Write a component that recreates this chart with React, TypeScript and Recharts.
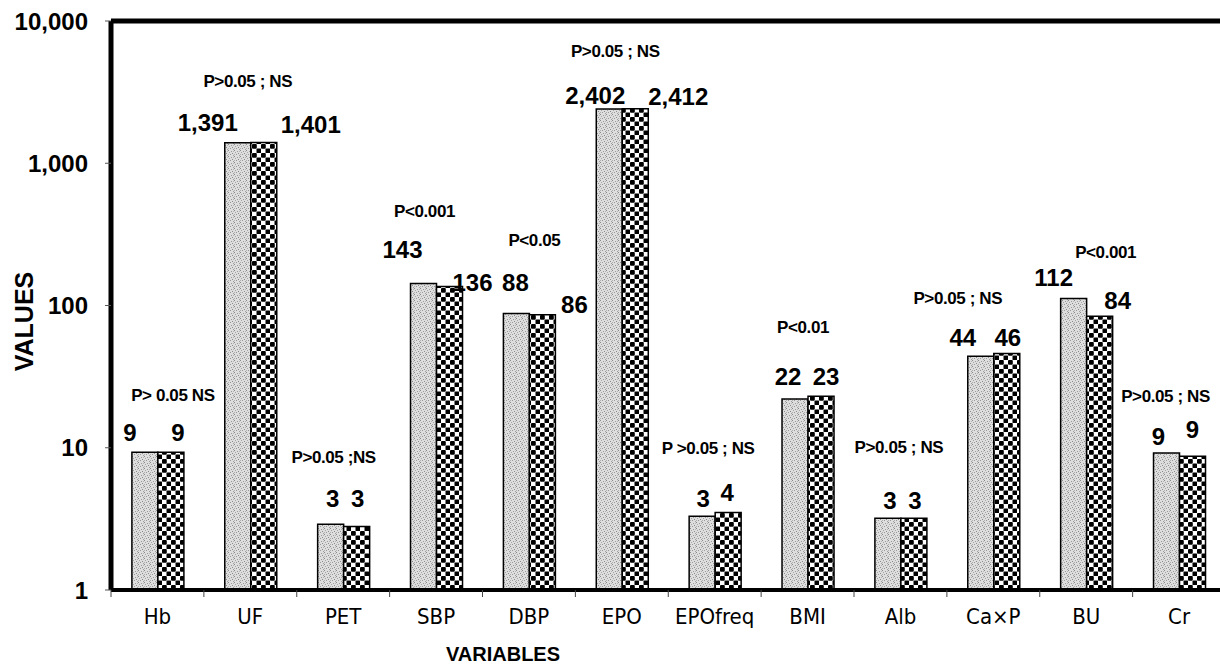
import React from "react";
import { BarChart, Bar, XAxis, YAxis, ReferenceLine, LabelList } from "recharts";

const CATEGORIES = ["Hb", "UF", "PET", "SBP", "DBP", "EPO", "EPOfreq", "BMI", "Alb", "Ca×P", "BU", "Cr"];
const GROUP_A = [9.3, 1391, 2.9, 143, 88, 2402, 3.3, 22, 3.2, 44, 112, 9.2];
const GROUP_B = [9.3, 1401, 2.8, 136, 86, 2412, 3.5, 23, 3.2, 46, 84, 8.7];
const LABELS_A = ["9", "1,391", "3", "143", "88", "2,402", "3", "22", "3", "44", "112", "9"];
const LABELS_B = ["9", "1,401", "3", "136", "86", "2,412", "4", "23", "3", "46", "84", "9"];
const P_NOTES = [
  "P> 0.05 NS", "P>0.05 ; NS", "P>0.05 ;NS", "P<0.001", "P<0.05", "P>0.05 ; NS",
  "P >0.05 ; NS", "P<0.01", "P>0.05 ; NS", "P>0.05 ; NS", "P<0.001", "P>0.05 ; NS",
];
const Y_TICKS = [1, 10, 100, 1000, 10000];

// label placement: [dx, dy] from bar centre / bar top
const A_OFF = [[-15, -20], [-30, -20], [2, -26], [-21, -34], [-1, -31], [-14, -14], [1, -18], [-7, -23], [2, -18], [-18, -19], [-20, -21], [-8, -16]];
const B_OFF = [[7, -20], [47, -18], [1, -28], [23, -4], [32, -10], [43, -12], [-1, -20], [5, -20], [1, -18], [1, -16], [18, -16], [0, -27]];
const NOTE_OFF = [[15, -57], [-3, -61], [-10, -67], [-12, -72], [5, -73], [-7, -58], [-7, -68], [-5, -72], [-2, -71], [-36, -58], [19, -46], [-14, -56]];

const W = 1240;
const H = 669;
const Y_W = 111;
const M_RIGHT = 14.5;
const STEP = (W - Y_W - M_RIGHT) / CATEGORIES.length;
const ARIAL = "'Liberation Sans', Arial, sans-serif";

const data = CATEGORIES.map((name, i) => ({ name, a: GROUP_A[i], b: GROUP_B[i] }));

function XTick(props: any) {
  const { x, y, payload } = props;
  const lx = x - STEP / 2;
  return (
    <g>
      <line x1={lx} x2={lx} y1={y - 18} y2={y - 11} stroke="#444" strokeWidth={1} />
      <text x={x} y={y} dy="0.71em" textAnchor="middle" fontSize={22} fill="#000"
        fontFamily="'DejaVu Sans Condensed', 'DejaVu Sans', sans-serif" style={{ fontStretch: "condensed" }}>
        {payload.value}
      </text>
    </g>
  );
}

function valueLabel(labels: string[], offs: number[][], left: boolean) {
  return (props: any) => {
    const { x, y, width, index } = props;
    const [dx, dy] = offs[index];
    const cx = x + width / 2 + dx;
    const els = [
      <text key="v" x={cx} y={y + dy} textAnchor="middle" dominantBaseline="central"
        fontSize={24} fontWeight="bold" fontFamily={ARIAL} fill="#000">{labels[index]}</text>,
    ];
    if (left) {
      const [ndx, ndy] = NOTE_OFF[index];
      els.push(
        <text key="n" x={x + width + ndx} y={y + ndy} textAnchor="middle" dominantBaseline="central"
          fontSize={17} fontWeight="bold" fontFamily={ARIAL} fill="#000" letterSpacing={-0.4}>
          {P_NOTES[index]}
        </text>
      );
    }
    return <g>{els}</g>;
  };
}

export default function App() {
  return (
    <div style={{ position: "fixed", left: 0, top: 0, width: 1220, height: 669, overflow: "hidden", background: "#fff" }}>
      <BarChart width={W} height={H} data={data} margin={{ top: 21, right: M_RIGHT, bottom: 0, left: 0 }}
        barCategoryGap="22.5%" barGap={0}>
        <defs>
          <pattern id="stipple" width="6" height="6" patternUnits="userSpaceOnUse">
            <rect width="6" height="6" fill="#dedede" />
            <rect x="0" y="0" width="1" height="1" fill="#8a8a8a" />
            <rect x="3" y="1" width="1" height="1" fill="#9a9a9a" />
            <rect x="1" y="2" width="1" height="1" fill="#a5a5a5" />
            <rect x="4" y="3" width="1" height="1" fill="#8a8a8a" />
            <rect x="2" y="4" width="1" height="1" fill="#999" />
            <rect x="5" y="5" width="1" height="1" fill="#a0a0a0" />
            <rect x="0" y="4" width="1" height="1" fill="#b0b0b0" />
            <rect x="5" y="1" width="1" height="1" fill="#b5b5b5" />
          </pattern>
          <pattern id="checker" width="9" height="9" patternUnits="userSpaceOnUse">
            <rect width="9" height="9" fill="#fff" />
            <rect x="0" y="0" width="4.8" height="4.8" rx="1" fill="#000" />
            <rect x="4.5" y="4.5" width="4.8" height="4.8" rx="1" fill="#000" />
          </pattern>
        </defs>
        <XAxis dataKey="name" interval={0} height={H - 590} tickSize={0} tickMargin={18} tickLine={false}
          tick={<XTick />} axisLine={{ stroke: "#000", strokeWidth: 4 }}
          label={{
            content: (p: any) => {
              const vb = p.viewBox;
              return (
                <text x={503} y={vb.y + 64} textAnchor="middle" dominantBaseline="central"
                  fontSize={20} fontWeight="bold" fontFamily={ARIAL}>VARIABLES</text>
              );
            },
          }} />
        <YAxis scale="log" domain={[1, 10000]} ticks={Y_TICKS} allowDataOverflow width={Y_W}
          tickSize={6} tickMargin={17} tickLine={{ stroke: "#555", strokeWidth: 1 }}
          axisLine={{ stroke: "#000", strokeWidth: 5 }}
          tick={{ fontSize: 24, fontWeight: "bold", fontFamily: ARIAL, fill: "#000" }}
          tickFormatter={(v: number) => v.toLocaleString("en-US")}
          label={{
            content: (p: any) => {
              const vb = p.viewBox;
              const cx = 24;
              const cy = vb.y + vb.height / 2 + 16;
              return (
                <text x={cx} y={cy} transform={`rotate(-90 ${cx} ${cy})`} textAnchor="middle"
                  dominantBaseline="central" fontSize={25} fontWeight="bold" fontFamily={ARIAL}>VALUES</text>
              );
            },
          }} />
        <ReferenceLine y={10000} stroke="#000" strokeWidth={5} />
        <Bar dataKey="a" fill="url(#stipple)" stroke="#000" strokeWidth={1.5} isAnimationActive={false}>
          <LabelList dataKey="a" content={valueLabel(LABELS_A, A_OFF, true)} />
        </Bar>
        <Bar dataKey="b" fill="url(#checker)" stroke="#000" strokeWidth={1.5} isAnimationActive={false}>
          <LabelList dataKey="b" content={valueLabel(LABELS_B, B_OFF, false)} />
        </Bar>
      </BarChart>
    </div>
  );
}
